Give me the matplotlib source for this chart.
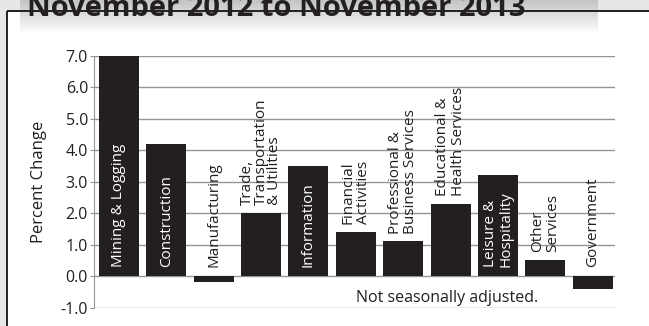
import numpy as np
import matplotlib
matplotlib.use('Agg')
import matplotlib.pyplot as plt

# data
industries = ['Mining & Logging', 'Construction', 'Manufacturing',
              'Trade,\nTransportation\n& Utilities', 'Information',
              'Financial\nActivities', 'Professional &\nBusiness Services',
              'Educational &\nHealth Services', 'Leisure &\nHospitality',
              'Other\nServices', 'Government']
pct_change = [7.0, 4.2, -0.2, 2.0, 3.5, 1.4, 1.1, 2.3, 3.2, 0.5, -0.4]
label_inside = [True, True, False, False, True, False, False, False, True, False, False]
yticks = [-1.0, 0.0, 1.0, 2.0, 3.0, 4.0, 5.0, 6.0, 7.0]

W, H = 649, 326
bar_color = '#231f20'
grid_color = '#939598'
plt.rcParams['font.family'] = ['Open Sans', 'DejaVu Sans']

fig = plt.figure(figsize=(W / 100, H / 100), dpi=100)
fig.patch.set_facecolor('#e6e7e8')

# background: frame, white panel and gradient title strip (pixel coords)
bg = fig.add_axes([0, 0, 1, 1], zorder=0)
bg.axis('off')
bg.add_patch(plt.Rectangle((7, 11), W, H, facecolor='white', edgecolor='none'))
grad = np.linspace(0, 1, 64).reshape(-1, 1)
cmap = matplotlib.colors.LinearSegmentedColormap.from_list('g', ['#c3c4c6', '#ffffff'])
bg.imshow(grad, cmap=cmap, extent=(20, 598, 34, 0), aspect='auto', zorder=1)
bg.plot([7, 7], [11, H], color=bar_color, lw=1.4, zorder=2, solid_capstyle='butt')
bg.plot([7, W], [11, 11], color=bar_color, lw=1.4, zorder=2, solid_capstyle='butt')
bg.text(27, 16, 'November 2012 to November 2013', fontsize=21, fontweight='bold',
        color=bar_color, va='baseline', ha='left', zorder=3)
bg.set_xlim(0, W)
bg.set_ylim(H, 0)

# main chart
ax = fig.add_axes([94.3 / W, 1 - 307.5 / H, (615 - 94.3) / W, (307.5 - 55.7) / H], zorder=1)
ax.set_facecolor('none')
x = np.arange(len(industries))
ax.bar(x, pct_change, width=0.845, color=bar_color, zorder=3)
ax.set_xlim(-0.52, 10.47)
ax.set_ylim(-1, 7)
ax.set_yticks(yticks)
ax.set_yticklabels(['%.1f' % v for v in yticks], fontsize=11.5, color=bar_color)
ax.set_xticks([])
for v in yticks:
    ax.axhline(v, color=grid_color, lw=1.0, zorder=1)
for s in ['top', 'right', 'bottom']:
    ax.spines[s].set_visible(False)
ax.spines['left'].set_color(grid_color)
ax.tick_params(axis='y', color=grid_color, length=3, pad=1.5)
ax.set_ylabel('Percent Change', fontsize=12, color=bar_color, labelpad=10)

for i, (name, v, inside) in enumerate(zip(industries, pct_change, label_inside)):
    ls = 0.85 if name.count('\n') > 1 else 1.05
    if inside:
        ax.text(i, 0.3, name, rotation=90, ha='center', va='bottom', color='white',
                fontsize=11, linespacing=ls, zorder=4, multialignment='left')
    else:
        base = max(v, 0) + (0.3 if v <= 0 else 0.25)
        ax.text(i, base, name, rotation=90, ha='center', va='bottom', color=bar_color,
                fontsize=11, linespacing=ls, zorder=4, multialignment='left')

ax.text(6.92, -0.7, 'Not seasonally adjusted.', fontsize=11.5, color=bar_color,
        ha='center', va='center', zorder=4)

fig.savefig('out.png', dpi=100, facecolor=fig.get_facecolor())
